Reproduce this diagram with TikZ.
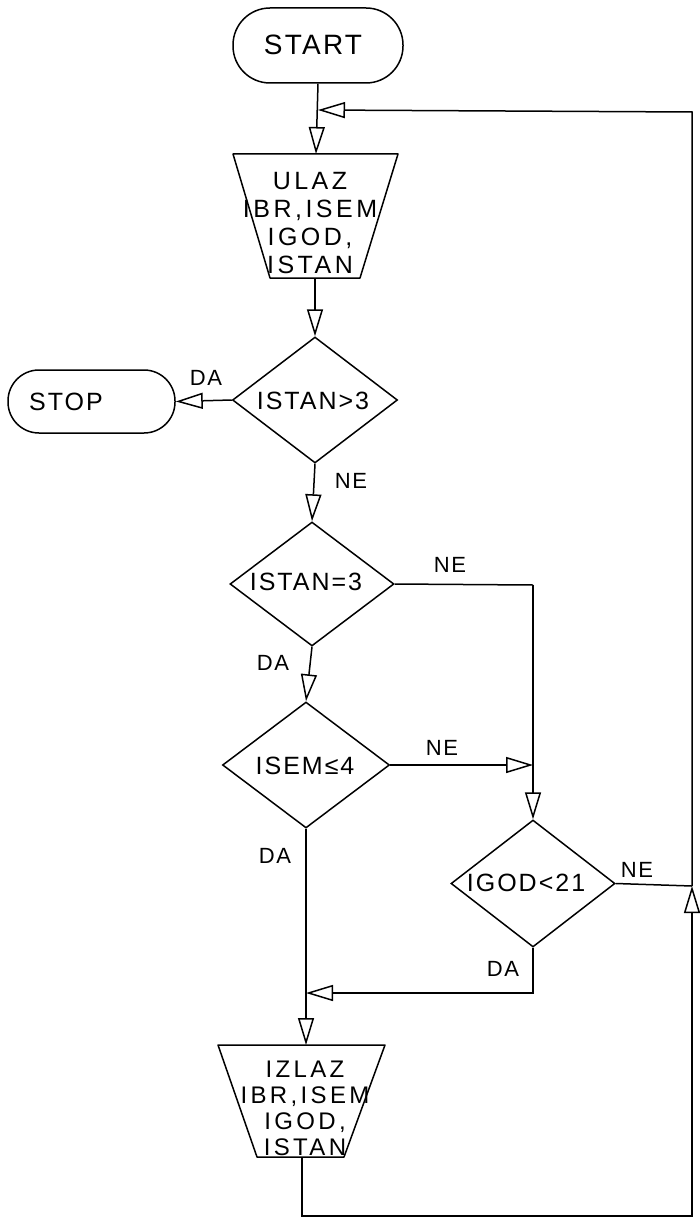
\documentclass[tikz,border=0pt]{standalone}
\usepackage{fontspec}
\setmainfont{Liberation Sans}[LetterSpace=8]
\usetikzlibrary{shapes.geometric,arrows.meta}
\begin{document}
\begin{tikzpicture}[x=1pt,y=-1pt,line width=1.5pt,
  flow/.style={-{Triangle[open,length=27pt,width=16pt]}},
  term/.style={draw,rectangle,inner sep=0pt},
  dec/.style={draw,diamond,inner sep=0pt},
  txt/.style={font=\fontsize{25}{28}\selectfont,align=center,inner sep=0pt},
  iotxt/.style={font=\fontsize{25}{28}\selectfont\addfontfeature{LetterSpace=14},align=center,inner sep=0pt},
  otxt/.style={font=\fontsize{24}{26}\selectfont\addfontfeature{LetterSpace=14},align=center,inner sep=0pt},
  lbl/.style={font=\fontsize{22}{24}\selectfont,inner sep=0pt}]
\useasboundingbox (0,0) rectangle (699,1225);
% shapes
\node[term,rounded corners=37pt,minimum width=170pt,minimum height=75pt] (start) at (318,45.5) {};
\node[font=\fontsize{28}{30}\selectfont,inner sep=0pt] (starttxt) at (313,45) {START};
% input trapezoid
\coordinate (ulazn) at (316,154);
\coordinate (ulazs) at (315,278);
\draw[line join=round] (233,154) -- (398,154) -- (360,278) -- (270,278) -- cycle;
\node[iotxt] (ulaztxt) at (310,223) {ULAZ\\IBR,ISEM\\IGOD,\\ISTAN};
\node[dec,minimum width=165pt,minimum height=126pt] (d1) at (315,400) {};
\node[txt] (d1txt) at (313,401) {ISTAN>3};
\node[term,rounded corners=31pt,minimum width=167pt,minimum height=63pt] (stop) at (91.5,401.5) {};
\node[txt] (stoptxt) at (66,402) {STOP};
\node[dec,minimum width=164pt,minimum height=124pt] (d2) at (312,584) {};
\node[txt] (d2txt) at (306,582) {ISTAN=3};
\node[dec,minimum width=167pt,minimum height=126pt] (d3) at (306,765) {};
\node[txt] (d3txt) at (305,766) {ISEM≤4};
\node[dec,minimum width=164pt,minimum height=127pt] (d4) at (533,883.5) {};
\node[txt] (d4txt) at (526,883) {IGOD<21};
% output trapezoid
\coordinate (izlazn) at (306,1045);
\coordinate (izlazs) at (302,1157);
\draw[line join=round] (218,1045) -- (385,1045) -- (344,1157) -- (257,1157) -- cycle;
\node[otxt] (izlaztxt) at (305,1108) {IZLAZ\\IBR,ISEM\\IGOD,\\ISTAN};
% coordinates
\coordinate (ret) at (318,110);
\coordinate (jr1) at (692,112);
\coordinate (jr2) at (692,886);
\coordinate (jr3) at (692,1216);
\coordinate (jb) at (302,1216);
\coordinate (j1) at (533,585);
\coordinate (j3) at (306,993);
\coordinate (j4) at (533,993);
% connectors
\draw[flow] (start.south) -- (ulazn);
\draw[flow] (ulazs) -- (d1.north);
\draw[flow] (d1.west) -- (stop.east);
\draw[flow] (d1.south) -- (d2.north);
\draw (d2.east) -- (j1);
\draw[flow] (j1) -- (d4.north);
\draw[flow] (d2.south) -- (d3.north);
\draw[flow] (d3.east) -- (d3.east -| j1);
\draw[flow] (d3.south) -- (izlazn);
\draw[flow] (d4.south) -- (j4) -- (j3);
\draw (d4.east) -- (jr2);
\draw[flow] (izlazs) -- (jb) -- (jr3) -- (jr2);
\draw[flow] (jr2) -- (jr1) -- (ret);
% labels
\node[lbl] (l1) at (206,378) {DA};
\node[lbl] (l2) at (351,481) {NE};
\node[lbl] (l3) at (450,565) {NE};
\node[lbl] (l4) at (273,663) {DA};
\node[lbl] (l5) at (442,748) {NE};
\node[lbl] (l6) at (275,856) {DA};
\node[lbl] (l7) at (637,870) {NE};
\node[lbl] (l8) at (503,969) {DA};
\end{tikzpicture}
\end{document}
